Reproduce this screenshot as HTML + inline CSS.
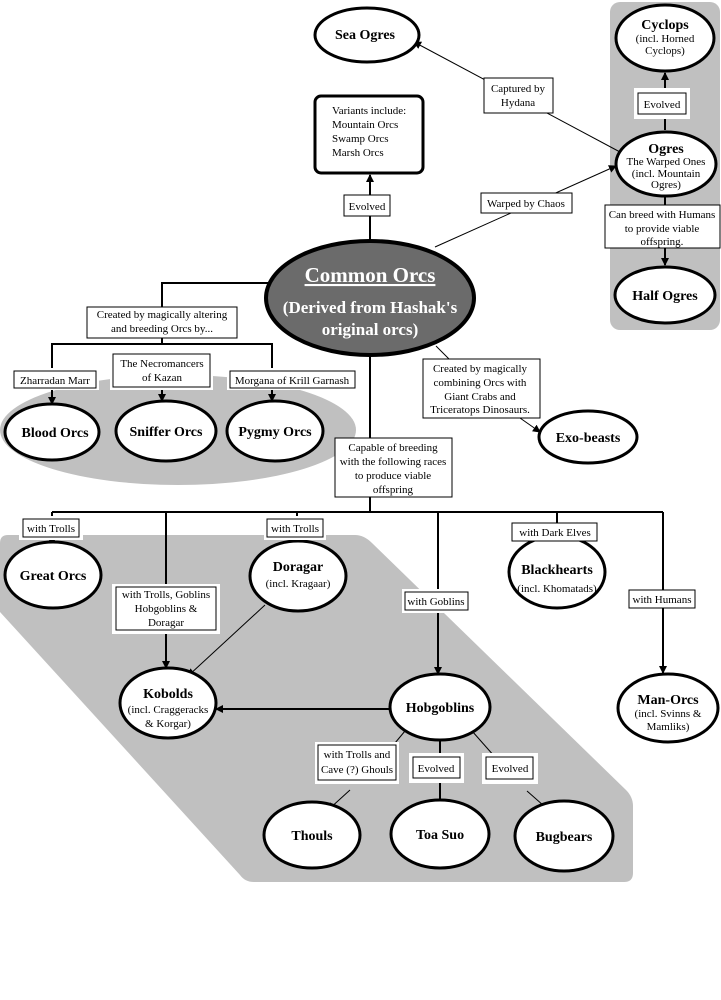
<!DOCTYPE html>
<html><head><meta charset="utf-8"><style>
html,body{margin:0;padding:0;background:#fff;}
svg{display:block;font-family:"Liberation Serif",serif;}
.e{fill:#fff;stroke:#000;stroke-width:3}
.l{stroke:#000;stroke-width:2;fill:none}
.t{stroke:#000;stroke-width:1;fill:none}
.b{fill:#fff;stroke:#000;stroke-width:1}
.n{font-weight:bold;font-size:14px;text-anchor:middle}
.s{font-size:11px;text-anchor:middle}
</style></head><body>
<svg width="721" height="1000" viewBox="0 0 721 1000" xmlns="http://www.w3.org/2000/svg">
<defs><marker id="a" markerWidth="8" markerHeight="8" refX="7" refY="4" orient="auto" markerUnits="userSpaceOnUse"><path d="M0,0 L8,4 L0,8 z" fill="#000"/></marker></defs>
<!-- gray backgrounds -->
<rect x="610" y="2" width="110" height="328" rx="10" fill="#c0c0c0"/>
<ellipse cx="178" cy="430" rx="178" ry="55" fill="#c0c0c0"/>
<path d="M8,535 L355,535 Q364,535 372,543 L626,790 Q633,797 633,806 L633,873 Q633,882 624,882 L254,882 Q245,882 240,875 L0,612 L0,543 Q0,535 8,535 z" fill="#c0c0c0"/>

<!-- connectors top -->
<line class="l" x1="665" y1="130" x2="665" y2="73" marker-end="url(#a)"/>
<line class="l" x1="665" y1="196" x2="665" y2="265" marker-end="url(#a)"/>
<line class="t" x1="620" y1="152" x2="414" y2="42" marker-end="url(#a)"/>
<line class="t" x1="435" y1="247" x2="616" y2="166" marker-end="url(#a)"/>
<line class="l" x1="370" y1="240" x2="370" y2="175" marker-end="url(#a)"/>
<!-- left branch -->
<polyline class="l" points="272,283 162,283 162,307"/>
<line class="l" x1="162" y1="338" x2="162" y2="344"/>
<polyline class="l" points="52,370 52,344 272,344 272,370"/>
<line class="l" x1="52" y1="388" x2="52" y2="404" marker-end="url(#a)"/>
<line class="l" x1="162" y1="387" x2="162" y2="401" marker-end="url(#a)"/>
<line class="l" x1="272" y1="388" x2="272" y2="401" marker-end="url(#a)"/>
<!-- exo -->
<line class="t" x1="436" y1="346" x2="450" y2="360"/>
<line class="t" x1="520" y1="418" x2="540" y2="432" marker-end="url(#a)"/>
<!-- down -->
<line class="l" x1="370" y1="356" x2="370" y2="438"/>
<line class="l" x1="370" y1="497" x2="370" y2="512"/>
<line class="l" x1="52" y1="512" x2="663" y2="512"/>
<line class="l" x1="52" y1="512" x2="52" y2="519"/>
<line class="l" x1="52" y1="537" x2="52" y2="545" marker-end="url(#a)"/>
<line class="l" x1="166" y1="512" x2="166" y2="587"/>
<line class="l" x1="166" y1="630" x2="166" y2="668" marker-end="url(#a)"/>
<line class="l" x1="297" y1="512" x2="297" y2="519"/>
<line class="l" x1="297" y1="537" x2="297" y2="541" marker-end="url(#a)"/>
<line class="t" x1="265" y1="605" x2="188" y2="676" marker-end="url(#a)"/>
<line class="l" x1="438" y1="512" x2="438" y2="592"/>
<line class="l" x1="438" y1="610" x2="438" y2="674" marker-end="url(#a)"/>
<line class="l" x1="557" y1="512" x2="557" y2="523"/>
<line class="l" x1="557" y1="541" x2="557" y2="553" marker-end="url(#a)"/>
<line class="l" x1="663" y1="512" x2="663" y2="590"/>
<line class="l" x1="663" y1="608" x2="663" y2="673" marker-end="url(#a)"/>
<line class="l" x1="390" y1="709" x2="216" y2="709" marker-end="url(#a)"/>
<line class="t" x1="405" y1="731" x2="385" y2="755"/>
<line class="t" x1="350" y1="790" x2="328" y2="810" marker-end="url(#a)"/>
<line class="l" x1="440" y1="740" x2="440" y2="806" marker-end="url(#a)"/>
<line class="t" x1="472" y1="731" x2="495" y2="757"/>
<line class="t" x1="527" y1="791" x2="552" y2="813" marker-end="url(#a)"/>

<!-- nodes -->
<ellipse class="e" cx="367" cy="35" rx="52" ry="27"/>
<text class="n" x="365" y="39">Sea Ogres</text>
<ellipse class="e" cx="665" cy="38" rx="49" ry="33"/>
<text class="n" x="665" y="29">Cyclops</text>
<text class="s" x="665" y="42">(incl. Horned</text>
<text class="s" x="665" y="54">Cyclops)</text>
<ellipse class="e" cx="666" cy="164" rx="50" ry="32"/>
<text class="n" x="666" y="153">Ogres</text>
<text class="s" x="666" y="165">The Warped Ones</text>
<text class="s" x="666" y="177">(incl. Mountain</text>
<text class="s" x="666" y="188">Ogres)</text>
<ellipse class="e" cx="665" cy="295" rx="50" ry="28"/>
<text class="n" x="665" y="300">Half Ogres</text>
<rect x="315" y="96" width="108" height="77" rx="6" fill="#fff" stroke="#000" stroke-width="3"/>
<text font-size="11" x="332" y="114">Variants include:</text>
<text font-size="11" x="332" y="128">Mountain Orcs</text>
<text font-size="11" x="332" y="142">Swamp Orcs</text>
<text font-size="11" x="332" y="156">Marsh Orcs</text>

<ellipse cx="370" cy="298" rx="104" ry="57" fill="#6b6b6b" stroke="#000" stroke-width="4"/>
<text x="370" y="282" text-anchor="middle" font-size="21" font-weight="bold" fill="#fff" text-decoration="underline">Common Orcs</text>
<text x="370" y="313" text-anchor="middle" font-size="17" font-weight="bold" fill="#fff">(Derived from Hashak's</text>
<text x="370" y="335" text-anchor="middle" font-size="17" font-weight="bold" fill="#fff">original orcs)</text>

<ellipse class="e" cx="52" cy="432" rx="47" ry="28"/><text class="n" x="55" y="437">Blood Orcs</text>
<ellipse class="e" cx="166" cy="431" rx="50" ry="30"/><text class="n" x="166" y="436">Sniffer Orcs</text>
<ellipse class="e" cx="275" cy="431" rx="48" ry="30"/><text class="n" x="275" y="436">Pygmy Orcs</text>
<ellipse class="e" cx="588" cy="437" rx="49" ry="26"/><text class="n" x="588" y="442">Exo-beasts</text>

<ellipse class="e" cx="53" cy="575" rx="48" ry="33"/><text class="n" x="53" y="580">Great Orcs</text>
<ellipse class="e" cx="298" cy="576" rx="48" ry="35"/><text class="n" x="298" y="571">Doragar</text><text class="s" x="298" y="587">(incl. Kragaar)</text>
<ellipse class="e" cx="557" cy="572" rx="48" ry="36"/><text class="n" x="557" y="574">Blackhearts</text><text class="s" x="557" y="592">(incl. Khomatads)</text>
<ellipse class="e" cx="168" cy="703" rx="48" ry="35"/><text class="n" x="168" y="698">Kobolds</text><text class="s" x="168" y="713">(incl. Craggeracks</text><text class="s" x="168" y="727">&amp; Korgar)</text>
<ellipse class="e" cx="440" cy="707" rx="50" ry="33"/><text class="n" x="440" y="712">Hobgoblins</text>
<ellipse class="e" cx="668" cy="708" rx="50" ry="34"/><text class="n" x="668" y="704">Man-Orcs</text><text class="s" x="668" y="717">(incl. Svinns &amp;</text><text class="s" x="668" y="730">Mamliks)</text>
<ellipse class="e" cx="312" cy="835" rx="48" ry="33"/><text class="n" x="312" y="840">Thouls</text>
<ellipse class="e" cx="440" cy="834" rx="49" ry="34"/><text class="n" x="440" y="839">Toa Suo</text>
<ellipse class="e" cx="564" cy="836" rx="49" ry="35"/><text class="n" x="564" y="841">Bugbears</text>

<!-- label boxes (white halo + border) -->
<g font-size="11" text-anchor="middle">
<rect x="634" y="88" width="56" height="31" fill="#fff"/><rect class="b" x="638" y="93" width="48" height="21"/><text x="662" y="108">Evolved</text>
<rect x="484" y="78" width="69" height="35" class="b"/><text x="518" y="92">Captured by</text><text x="518" y="106">Hydana</text>
<rect x="481" y="193" width="91" height="20" class="b"/><text x="526" y="207">Warped by Chaos</text>
<rect x="344" y="195" width="46" height="21" class="b"/><text x="367" y="210">Evolved</text>
<rect x="605" y="205" width="115" height="43" class="b"/><text x="662" y="218">Can breed with Humans</text><text x="662" y="232">to provide viable</text><text x="662" y="245">offspring.</text>
<rect x="87" y="307" width="150" height="31" class="b"/><text x="162" y="318">Created by magically altering</text><text x="162" y="332">and breeding Orcs by...</text>
<rect x="11" y="368" width="88" height="22" fill="#fff"/><rect x="14" y="371" width="82" height="17" class="b"/><text x="55" y="384">Zharradan Marr</text>
<rect x="110" y="351" width="103" height="39" fill="#fff"/><rect x="113" y="354" width="97" height="33" class="b"/><text x="162" y="367">The Necromancers</text><text x="162" y="381">of Kazan</text>
<rect x="227" y="368" width="131" height="22" fill="#fff"/><rect x="230" y="371" width="125" height="17" class="b"/><text x="292" y="384">Morgana of Krill Garnash</text>
<rect x="423" y="359" width="117" height="59" class="b"/><text x="480" y="372">Created by magically</text><text x="480" y="386">combining Orcs with</text><text x="480" y="400">Giant Crabs and</text><text x="480" y="413">Triceratops Dinosaurs.</text>
<rect x="335" y="438" width="117" height="59" class="b"/><text x="393" y="451">Capable of breeding</text><text x="393" y="465">with the following races</text><text x="393" y="479">to produce viable</text><text x="393" y="493">offspring</text>
<rect x="19" y="516" width="64" height="24" fill="#fff"/><rect x="23" y="519" width="56" height="18" class="b"/><text x="51" y="532">with Trolls</text>
<rect x="264" y="516" width="62" height="24" fill="#fff"/><rect x="267" y="519" width="56" height="18" class="b"/><text x="295" y="532">with Trolls</text>
<rect x="512" y="523" width="85" height="18" class="b"/><text x="555" y="536">with Dark Elves</text>
<rect x="112" y="584" width="108" height="50" fill="#fff"/><rect x="116" y="587" width="100" height="43" class="b"/><text x="166" y="598">with Trolls, Goblins</text><text x="166" y="612">Hobgoblins &amp;</text><text x="166" y="626">Doragar</text>
<rect x="402" y="589" width="68" height="24" fill="#fff"/><rect x="405" y="592" width="63" height="18" class="b"/><text x="436" y="605">with Goblins</text>
<rect x="629" y="590" width="66" height="18" class="b"/><text x="662" y="603">with Humans</text>
<rect x="315" y="742" width="84" height="42" fill="#fff"/><rect x="318" y="745" width="78" height="35" class="b"/><text x="357" y="758">with Trolls and</text><text x="357" y="773">Cave (?) Ghouls</text>
<rect x="409" y="753" width="55" height="30" fill="#fff"/><rect x="413" y="757" width="47" height="21" class="b"/><text x="436" y="772">Evolved</text>
<rect x="482" y="753" width="56" height="31" fill="#fff"/><rect x="486" y="757" width="47" height="22" class="b"/><text x="510" y="772">Evolved</text>
</g>
</svg>
</body></html>
